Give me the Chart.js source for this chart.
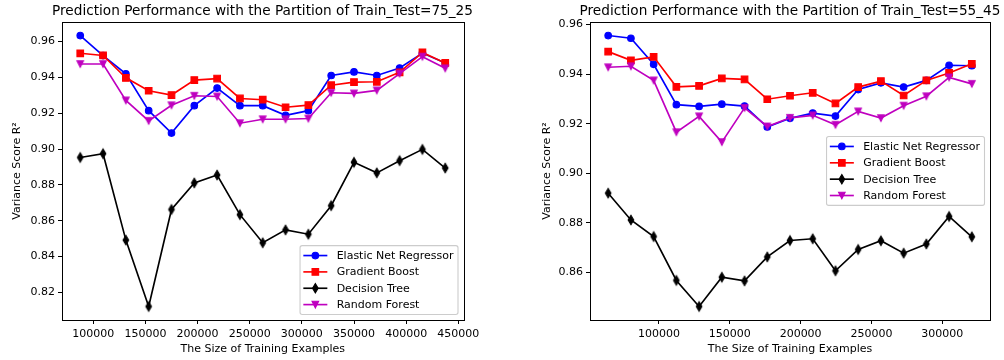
<!DOCTYPE html>
<html><head><meta charset="utf-8">
<script src="https://cdn.jsdelivr.net/npm/chart.js@4.4.1/dist/chart.umd.min.js"></script>
<style>
html,body{margin:0;padding:0;background:#fff;width:1004px;height:360px;overflow:hidden;position:relative;}
canvas{position:absolute;top:0;}
#c1{left:0;}
#c2{left:528px;}
</style></head><body>
<canvas id="c1" width="525" height="360"></canvas>
<canvas id="c2" width="524" height="360"></canvas>
<script>
// ---- data: partition 75_25 ----
const title7525 = 'Prediction Performance with the Partition of Train_Test=75_25';
const sizes7525 = [87500,109375,131250,153125,175000,196875,218750,240625,262500,284375,306250,328125,350000,371875,393750,415625,437500];
const elastic7525 = [0.9633,0.9521,0.9419,0.9214,0.9089,0.9242,0.9340,0.9242,0.9242,0.9188,0.9214,0.9410,0.9430,0.9410,0.9452,0.9535,0.9480];
const gradient7525 = [0.9534,0.9522,0.9397,0.9325,0.9301,0.9384,0.9393,0.9282,0.9275,0.9233,0.9245,0.9356,0.9373,0.9375,0.9428,0.9539,0.9480];
const tree7525 = [0.8953,0.8974,0.8492,0.8122,0.8663,0.8811,0.8855,0.8634,0.8477,0.8549,0.8525,0.8684,0.8926,0.8867,0.8935,0.8998,0.8894];
const forest7525 = [0.9474,0.9474,0.9271,0.9157,0.9244,0.9297,0.9293,0.9144,0.9166,0.9166,0.9170,0.9314,0.9310,0.9327,0.9421,0.9515,0.9450];
const xTicks7525 = [100000,150000,200000,250000,300000,350000,400000,450000];
const yTicks7525 = [0.82,0.84,0.86,0.88,0.90,0.92,0.94,0.96];

// ---- data: partition 55_45 ----
const title5545 = 'Prediction Performance with the Partition of Train_Test=55_45';
const sizes5545 = [64167,80208,96250,112292,128333,144375,160417,176458,192500,208542,224583,240625,256667,272708,288750,304792,320833];
const elastic5545 = [0.9556,0.9545,0.9440,0.9277,0.9270,0.9279,0.9271,0.9187,0.9222,0.9243,0.9231,0.9338,0.9365,0.9348,0.9375,0.9436,0.9434];
const gradient5545 = [0.9491,0.9456,0.9470,0.9349,0.9353,0.9383,0.9379,0.9299,0.9313,0.9325,0.9282,0.9348,0.9372,0.9314,0.9375,0.9405,0.9442];
const tree5545 = [0.8920,0.8812,0.8745,0.8568,0.8463,0.8581,0.8566,0.8663,0.8729,0.8736,0.8607,0.8693,0.8728,0.8678,0.8715,0.8826,0.8744];
const forest5545 = [0.9428,0.9432,0.9375,0.9166,0.9230,0.9126,0.9264,0.9189,0.9224,0.9234,0.9196,0.9250,0.9223,0.9273,0.9311,0.9387,0.9361];
const xTicks5545 = [100000,150000,200000,250000,300000];
const yTicks5545 = [0.86,0.88,0.90,0.92,0.94,0.96];

const seriesNames = ['Elastic Net Regressor','Gradient Boost','Decision Tree','Random Forest'];
const xLabel = 'The Size of Training Examples';
const yLabel = 'Variance Score R²';

// ---- styling ----
const FONT = '"DejaVu Sans", "Liberation Sans", sans-serif';
const COLORS = ['#0000ff', '#ff0000', '#000000', '#bf00bf'];
const KINDS = ['circle', 'square', 'diamond', 'triangle'];
const MS = 6.6, EW = 1.1, LW = 1.65;

function markerPath(ctx, kind, x, y) {
  const h = MS / 2;
  ctx.beginPath();
  if (kind === 'circle') {
    ctx.arc(x, y, h, 0, Math.PI * 2);
  } else if (kind === 'square') {
    ctx.rect(x - h, y - h, MS, MS);
  } else if (kind === 'diamond') {
    const t = MS * Math.SQRT2 / 2, w = t * 0.6;
    ctx.moveTo(x, y - t); ctx.lineTo(x + w, y); ctx.lineTo(x, y + t); ctx.lineTo(x - w, y);
    ctx.closePath();
  } else {
    ctx.moveTo(x - h, y - h); ctx.lineTo(x + h, y - h); ctx.lineTo(x, y + h);
    ctx.closePath();
  }
}
function drawMarker(ctx, kind, x, y, color) {
  ctx.save();
  markerPath(ctx, kind, x, y);
  ctx.fillStyle = color; ctx.strokeStyle = color; ctx.lineWidth = EW; ctx.lineJoin = 'miter';
  ctx.fill(); ctx.stroke();
  ctx.restore();
}
function markerImage(kind, color) {
  const c = document.createElement('canvas');
  c.width = 12; c.height = 14;
  drawMarker(c.getContext('2d'), kind, 6, 7, color);
  return c;
}
const IMG_DIAMOND = markerImage('diamond', COLORS[2]);
const IMG_TRIANGLE = markerImage('triangle', COLORS[3]);

function makeDatasets(xs, seriesList) {
  return seriesList.map((ys, i) => {
    const ds = {
      label: seriesNames[i],
      data: xs.map((x, j) => ({x: x, y: ys[j]})),
      borderColor: COLORS[i],
      backgroundColor: COLORS[i],
      borderWidth: LW,
      pointBorderWidth: EW,
      pointBorderColor: COLORS[i],
      pointBackgroundColor: COLORS[i],
      tension: 0,
      fill: false,
      order: 4 - i,
      markerKind: KINDS[i]
    };
    if (i === 0) { ds.pointStyle = 'circle'; ds.pointRadius = MS / 2; }
    if (i === 1) { ds.pointStyle = 'rect'; ds.pointRadius = MS / Math.SQRT2; }
    if (i === 2) { ds.pointStyle = IMG_DIAMOND; ds.pointRadius = 4; }
    if (i === 3) { ds.pointStyle = IMG_TRIANGLE; ds.pointRadius = 4; }
    ds.pointHoverRadius = ds.pointRadius;
    return ds;
  });
}

const framePlugin = {
  id: 'frame',
  afterDatasetsDraw(chart) {
    const {ctx, chartArea: a} = chart;
    ctx.save();
    ctx.strokeStyle = '#000'; ctx.lineWidth = 1;
    ctx.strokeRect(Math.round(a.left) + 0.5, Math.round(a.top) + 0.5, Math.round(a.right - a.left), Math.round(a.bottom - a.top));
    ctx.restore();
  }
};

const boxLegendPlugin = {
  id: 'boxLegend',
  afterDraw(chart, args, opts) {
    const {ctx, chartArea: a} = chart;
    const dsets = chart.data.datasets;
    ctx.save();
    ctx.font = '11px ' + FONT;
    let maxW = 0;
    dsets.forEach(d => { maxW = Math.max(maxW, ctx.measureText(d.label).width); });
    const rowH = 16.35, padV = 9.9;
    const boxW = 36.6 + maxW + 4.5;
    const boxH = padV * 2 + rowH * (dsets.length - 1);
    const right = a.right - 5.5;
    const left = right - boxW;
    let top;
    if (opts.loc === 'center right') top = (a.top + a.bottom) / 2 - boxH / 2;
    else top = a.bottom - 5.5 - boxH;
    const r = 2.2;
    ctx.beginPath();
    ctx.moveTo(left + r, top);
    ctx.lineTo(left + boxW - r, top); ctx.quadraticCurveTo(left + boxW, top, left + boxW, top + r);
    ctx.lineTo(left + boxW, top + boxH - r); ctx.quadraticCurveTo(left + boxW, top + boxH, left + boxW - r, top + boxH);
    ctx.lineTo(left + r, top + boxH); ctx.quadraticCurveTo(left, top + boxH, left, top + boxH - r);
    ctx.lineTo(left, top + r); ctx.quadraticCurveTo(left, top, left + r, top);
    ctx.closePath();
    ctx.fillStyle = 'rgba(255,255,255,0.8)'; ctx.fill();
    ctx.strokeStyle = '#cccccc'; ctx.lineWidth = 1.1; ctx.stroke();
    dsets.forEach((d, i) => {
      const y = top + padV + i * rowH;
      ctx.strokeStyle = d.borderColor; ctx.lineWidth = LW;
      ctx.beginPath(); ctx.moveTo(left + 3.3, y); ctx.lineTo(left + 27.3, y); ctx.stroke();
      drawMarker(ctx, d.markerKind, left + 15.3, y, d.borderColor);
      ctx.fillStyle = '#000'; ctx.textBaseline = 'middle'; ctx.textAlign = 'left';
      ctx.font = '11px ' + FONT;
      ctx.fillText(d.label, left + 36.6, y + 0.5);
    });
    ctx.restore();
  }
};

function makeChart(canvasId, opts) {
  const tickFont = {family: FONT, size: 11};
  const gridOpts = {drawOnChartArea: false, drawTicks: true, tickLength: 4, tickColor: '#000', tickWidth: 1};
  return new Chart(document.getElementById(canvasId), {
    type: 'line',
    data: {datasets: makeDatasets(opts.xs, opts.series)},
    options: {
      responsive: false,
      animation: false,
      events: [],
      layout: {padding: 0},
      plugins: {
        legend: {display: false},
        tooltip: {enabled: false},
        title: {
          display: true, text: opts.title, fullSize: true,
          color: '#000', font: {family: FONT, size: 13.65, weight: 'normal'},
          padding: {top: 3.3, bottom: 2.3}
        },
        boxLegend: {loc: opts.legendLoc}
      },
      scales: {
        x: {
          type: 'linear', position: 'bottom',
          min: opts.xMin, max: opts.xMax,
          afterBuildTicks: s => { s.ticks = opts.xTicks.map(v => ({value: v})); },
          afterFit: s => { s.height = 40; s.paddingLeft = 0; s.paddingRight = 0; },
          ticks: {callback: v => String(v), font: tickFont, color: '#000', padding: 3.5, maxRotation: 0, autoSkip: false},
          grid: gridOpts,
          border: {display: false},
          title: {display: true, text: xLabel, color: '#000', font: tickFont, padding: {top: 0, bottom: 4.5}}
        },
        y: {
          type: 'linear', position: 'left',
          min: opts.yMin, max: opts.yMax,
          afterBuildTicks: s => { s.ticks = opts.yTicks.map(v => ({value: v})); },
          afterFit: s => { s.width = 62; s.paddingTop = 0; s.paddingBottom = 0; },
          ticks: {callback: v => Number(v).toFixed(2), font: tickFont, color: '#000', padding: 3, autoSkip: false},
          grid: gridOpts,
          border: {display: false},
          title: {display: true, text: yLabel, color: '#000', font: tickFont, padding: {top: opts.yTitlePad, bottom: 0}}
        },
        spacer: {
          type: 'linear', position: 'right', display: true,
          grid: {display: false}, border: {display: false},
          ticks: {display: false},
          afterFit: s => { s.width = opts.rightGap; s.paddingTop = 0; s.paddingBottom = 0; }
        }
      }
    },
    plugins: [framePlugin, boxLegendPlugin]
  });
}

makeChart('c1', {
  title: title7525, xs: sizes7525,
  series: [elastic7525, gradient7525, tree7525, forest7525],
  xMin: 70000, xMax: 455000, yMin: 0.804645, yMax: 0.970855,
  xTicks: xTicks7525, yTicks: yTicks7525,
  rightGap: 61.5, legendLoc: 'lower right', yTitlePad: 10.9
});
makeChart('c2', {
  title: title5545, xs: sizes5545,
  series: [elastic5545, gradient5545, tree5545, forest5545],
  xMin: 51334, xMax: 333666, yMin: 0.840835, yMax: 0.961065,
  xTicks: xTicks5545, yTicks: yTicks5545,
  rightGap: 62, legendLoc: 'center right', yTitlePad: 13
});
</script>
</body></html>
